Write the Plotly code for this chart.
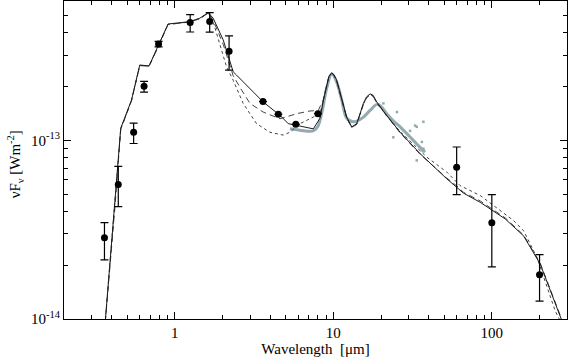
import math

import plotly.graph_objects as go

# photometry: wavelength [um], nuFnu [W m^-2], upper / lower error bounds
phot_wl = [0.36, 0.44, 0.55, 0.64, 0.79, 1.25, 1.66, 2.2, 3.6, 4.5, 5.8, 8.0, 60, 100, 200]
phot_f = [2.85e-14, 5.66e-14, 1.11e-13, 2.01e-13, 3.46e-13, 4.57e-13, 4.62e-13, 3.15e-13,
          1.65e-13, 1.40e-13, 1.23e-13, 1.41e-13, 7.08e-14, 3.46e-14, 1.77e-14]
phot_hi = [3.46e-14, 7.15e-14, 1.25e-13, 2.14e-13, 3.58e-13, 5.06e-13, 5.19e-13, 3.84e-13,
           1.65e-13, 1.40e-13, 1.23e-13, 1.41e-13, 9.18e-14, 4.97e-14, 2.29e-14]
phot_lo = [2.14e-14, 4.26e-14, 9.60e-14, 1.86e-13, 3.34e-13, 4.04e-13, 4.03e-13, 2.47e-13,
           1.65e-13, 1.40e-13, 1.23e-13, 1.41e-13, 4.97e-14, 1.96e-14, 1.26e-14]

# model 1 (solid)
solid_wl = [0.36, 0.418, 0.456, 0.533, 0.601, 0.688, 0.784, 0.907, 1.244, 1.439, 1.623, 1.746,
            2.02, 2.335, 2.45, 3.61, 4.61, 5.2, 7.48, 8.24, 8.67, 9.09, 9.39, 9.77, 10.1, 10.5,
            11.3, 12.15, 13.07, 14.05, 15.48, 16.2, 17.06, 17.8, 18.8, 21.7, 26.4, 35.3, 52.0,
            60.2, 66.3, 84.5, 97.7, 121.6, 158.6, 202, 277]
solid_f = [8.5e-15, 4.2e-14, 1.17e-13, 1.68e-13, 2.64e-13, 2.61e-13, 3.34e-13, 4.48e-13,
           4.62e-13, 4.83e-13, 5.19e-13, 4.83e-13, 3.65e-13, 2.42e-13, 2.32e-13, 1.64e-13,
           1.38e-13, 1.24e-13, 1.16e-13, 1.33e-13, 1.68e-13, 2.08e-13, 2.29e-13, 2.39e-13,
           2.33e-13, 2.17e-13, 1.72e-13, 1.35e-13, 1.19e-13, 1.24e-13, 1.61e-13, 1.75e-13,
           1.82e-13, 1.79e-13, 1.64e-13, 1.38e-13, 1.11e-13, 8.42e-14, 6.09e-14, 5.47e-14,
           5.06e-14, 4.50e-14, 4.13e-14, 3.63e-14, 2.92e-14, 2.03e-14, 9.75e-15]

# model 2 (dashed)
dash_wl = [0.36, 0.418, 0.456, 0.533, 0.601, 0.688, 0.784, 0.907, 1.244, 1.439, 1.623, 1.746,
           2.02, 2.335, 2.64, 2.98, 3.61, 4.61, 5.87, 7.12, 8.04, 8.67, 9.09, 9.39, 9.77, 10.1,
           10.5, 11.3, 12.15, 13.07, 14.05, 15.48, 16.2, 17.06, 17.8, 18.8, 21.7, 26.4, 35.3,
           52.0, 60.2, 66.3, 84.5, 97.7, 121.6, 158.6, 202, 277]
dash_f = [8.5e-15, 4.1e-14, 1.15e-13, 1.66e-13, 2.62e-13, 2.60e-13, 3.32e-13, 4.45e-13,
          4.60e-13, 4.80e-13, 5.15e-13, 4.70e-13, 3.45e-13, 2.30e-13, 1.91e-13, 1.61e-13,
          1.44e-13, 1.32e-13, 1.41e-13, 1.46e-13, 1.47e-13, 1.70e-13, 2.06e-13, 2.27e-13,
          2.37e-13, 2.31e-13, 2.15e-13, 1.70e-13, 1.33e-13, 1.18e-13, 1.23e-13, 1.59e-13,
          1.73e-13, 1.80e-13, 1.77e-13, 1.62e-13, 1.37e-13, 1.10e-13, 8.35e-14, 6.15e-14,
          5.55e-14, 5.12e-14, 4.58e-14, 4.20e-14, 3.68e-14, 2.95e-14, 2.05e-14, 9.9e-15]

# model 3 (dotted)
dot_wl = [0.36, 0.418, 0.456, 0.533, 0.601, 0.688, 0.784, 0.907, 1.244, 1.439, 1.623, 1.746,
          2.12, 2.335, 2.7, 3.28, 3.98, 4.83, 5.32, 6.16, 7.48, 8.24, 8.67, 9.09, 9.39, 9.77,
          10.1, 10.5, 11.3, 12.15, 13.07, 14.05, 15.48, 16.2, 17.06, 17.8, 18.8, 21.7, 26.4,
          38.9, 52.0, 63.1, 84.5, 118.6, 137, 158.6, 192.7, 251, 270]
dot_f = [8.5e-15, 4.2e-14, 1.16e-13, 1.67e-13, 2.63e-13, 2.60e-13, 3.33e-13, 4.46e-13,
         4.60e-13, 4.80e-13, 5.15e-13, 4.60e-13, 2.58e-13, 2.17e-13, 1.61e-13, 1.24e-13,
         1.11e-13, 1.07e-13, 1.11e-13, 1.24e-13, 1.35e-13, 1.41e-13, 1.70e-13, 2.06e-13,
         2.27e-13, 2.37e-13, 2.31e-13, 2.15e-13, 1.70e-13, 1.33e-13, 1.18e-13, 1.23e-13,
         1.59e-13, 1.73e-13, 1.80e-13, 1.77e-13, 1.62e-13, 1.37e-13, 1.12e-13, 8.05e-14,
         6.64e-14, 5.58e-14, 4.91e-14, 3.95e-14, 3.56e-14, 3.12e-14, 2.21e-14, 1.11e-14,
         9.75e-15]

# IRS spectrum
spec_wl = [5.33, 6.16, 7.48, 8.0, 8.48, 9.09, 9.77, 10.5, 11.3, 12.15, 13.37, 14.3, 15.48,
           17.06, 18.8, 20.0, 21.7, 23.8, 26.4, 29.1, 32.0, 35.3, 37.9]
spec_f = [1.16e-13, 1.14e-13, 1.13e-13, 1.20e-13, 1.44e-13, 1.96e-13, 2.35e-13, 2.12e-13,
          1.68e-13, 1.33e-13, 1.27e-13, 1.29e-13, 1.35e-13, 1.47e-13, 1.59e-13, 1.55e-13,
          1.41e-13, 1.29e-13, 1.19e-13, 1.09e-13, 1.00e-13, 9.13e-14, 8.6e-14]
# noisy spectral points off the main band
noise_wl = [20.7, 23.9, 25.2, 30.5, 32.8, 33.6, 33.6, 36.2, 36.2, 37.0, 37.0]
noise_f = [1.61e-13, 1.04e-13, 1.44e-13, 1.13e-13, 1.21e-13, 1.19e-13, 7.72e-14, 9.8e-14,
           8.79e-14, 1.27e-13, 8.98e-14]

x_ticks = [1, 10, 100]
y_ticks = [1e-14, 1e-13]
y_ticktext = ["10<sup>-14</sup>", "10<sup>-13</sup>"]

SPEC = "#93aab2"
FONT = "Liberation Serif"

fig = go.Figure()
fig.add_trace(go.Scatter(x=spec_wl, y=spec_f, mode="lines", line=dict(color=SPEC, width=3),
                         line_shape="spline"))
fig.add_trace(go.Scatter(x=noise_wl, y=noise_f, mode="markers",
                         marker=dict(color=SPEC, size=2.5, symbol="square")))
fig.add_trace(go.Scatter(x=dot_wl, y=dot_f, mode="lines",
                         line=dict(color="#444444", width=1, dash="dot")))
fig.add_trace(go.Scatter(x=dash_wl, y=dash_f, mode="lines",
                         line=dict(color="#444444", width=1, dash="6px,4px")))
fig.add_trace(go.Scatter(x=solid_wl, y=solid_f, mode="lines",
                         line=dict(color="#1a1a1a", width=1)))
fig.add_trace(go.Scatter(
    x=phot_wl, y=phot_f, mode="markers",
    marker=dict(color="black", size=7),
    error_y=dict(type="data", symmetric=False,
                 array=[h - f for h, f in zip(phot_hi, phot_f)],
                 arrayminus=[f - l for f, l in zip(phot_f, phot_lo)],
                 color="black", thickness=1.2, width=4),
))

fig.update_layout(
    width=568, height=362,
    margin=dict(l=64, r=1, t=1, b=43),
    showlegend=False,
    plot_bgcolor="white", paper_bgcolor="white",
    font=dict(family=FONT, size=15, color="black"),
)
fig.update_xaxes(
    type="log", range=[math.log10(0.2), math.log10(298)], automargin=False,
    tickvals=x_ticks, ticktext=[str(v) for v in x_ticks],
    ticks="inside", ticklen=7, tickcolor="black",
    showline=True, linecolor="black", mirror="ticks", showgrid=False, zeroline=False,
    minor=dict(tickvals=[0.3, 0.4, 0.5, 0.6, 0.7, 0.8, 0.9, 2, 3, 4, 5, 6, 7, 8, 9,
                         20, 30, 40, 50, 60, 70, 80, 90, 200],
               ticks="inside", ticklen=4, tickcolor="black", showgrid=False),
    title=dict(text="Wavelength  [μm]", standoff=0, font=dict(size=15)),
    tickfont=dict(size=15),
)
fig.update_yaxes(
    type="log", range=[-14, -12.22], automargin=False,
    tickvals=y_ticks, ticktext=y_ticktext,
    ticks="inside", ticklen=7, tickcolor="black",
    showline=True, linecolor="black", mirror="ticks", showgrid=False, zeroline=False,
    minor=dict(tickvals=[2e-14, 3e-14, 4e-14, 5e-14, 6e-14, 7e-14, 8e-14, 9e-14,
                         2e-13, 3e-13, 4e-13, 5e-13, 6e-13],
               ticks="inside", ticklen=4, tickcolor="black", showgrid=False),
    tickfont=dict(size=15),
)
# y title as a rotated annotation so it sits where the original has it
fig.add_annotation(
    text="νF<sub>ν</sub> [Wm<sup>-2</sup>]", textangle=-90,
    xref="paper", yref="paper", x=-0.097, y=0.487,
    xanchor="center", yanchor="middle", showarrow=False,
    font=dict(family=FONT, size=15, color="black"),
)

# drop the default page margin so the figure sits at the window corner
fig.write_html("out.html", config={"displayModeBar": False},
               post_script="document.body.style.margin = '0';")
